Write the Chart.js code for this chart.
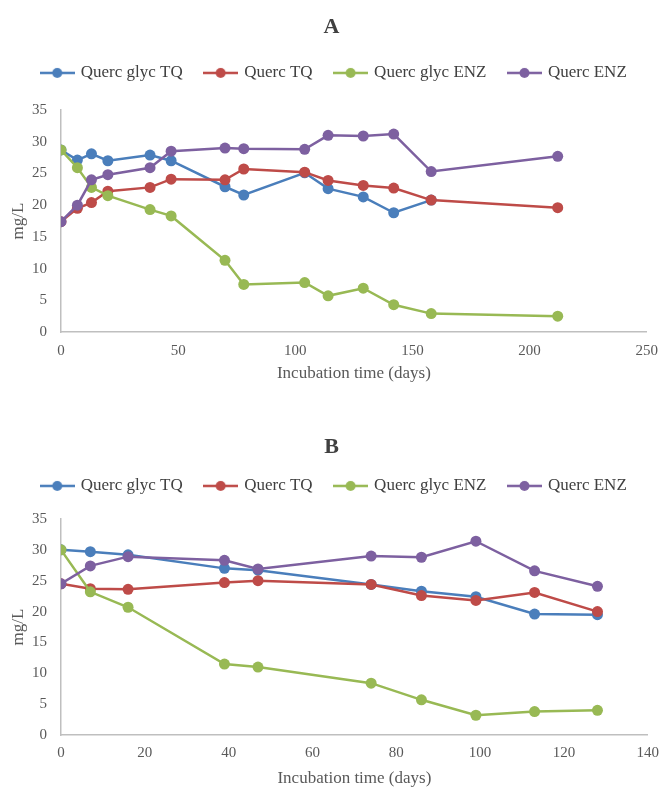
<!DOCTYPE html>
<html>
<head>
<meta charset="utf-8">
<script src="https://cdn.jsdelivr.net/npm/chart.js@4.4.1/dist/chart.umd.min.js"></script>
<style>
    html, body { margin: 0; padding: 0; background: #fff; overflow: hidden; }
    #wrapA { position: relative; width: 668px; height: 405px; }
    #wrapB { position: relative; width: 668px; height: 382px; }
    canvas { display: block; }
</style>
</head>
<body>
<div id="wrapA"><canvas id="chartA"></canvas></div>
<div id="wrapB"><canvas id="chartB"></canvas></div>
<script>
// Series names and colours (shared by both panels)
const seriesNames = ['Querc glyc TQ', 'Querc TQ', 'Querc glyc ENZ', 'Querc ENZ'];
const seriesColors = ['#4a7ebb', '#be4b48', '#98b954', '#7d60a0'];

// Panel A - incubation days and concentrations (mg/L)
const daysA = [0, 7, 13, 20, 38, 47, 70, 78, 104, 114, 129, 142, 158, 212];
const glycTQ_A = [28.7, 27.1, 28.1, 27.0, 27.9, 27.0, 22.9, 21.6, 25.1, 22.6, 21.3, 18.8, 20.8, null];
const quercTQ_A = [17.4, 19.5, 20.4, 22.2, 22.8, 24.1, 24.0, 25.7, 25.2, 23.9, 23.1, 22.7, 20.8, 19.6];
const glycENZ_A = [28.7, 25.9, 22.8, 21.5, 19.3, 18.3, 11.3, 7.5, 7.8, 5.7, 6.9, 4.3, 2.9, 2.5];
const quercENZ_A = [17.4, 20.0, 24.0, 24.8, 25.9, 28.5, 29.0, 28.9, 28.8, 31.0, 30.9, 31.2, 25.3, 27.7];

// Panel B
const daysB = [0, 7, 16, 39, 47, 74, 86, 99, 113, 128];
const glycTQ_B = [30.0, 29.7, 29.2, 27.0, 26.7, 24.4, 23.3, 22.4, 19.6, 19.5];
const quercTQ_B = [24.5, 23.7, 23.6, 24.7, 25.0, 24.4, 22.6, 21.8, 23.1, 20.0];
const glycENZ_B = [30.0, 23.2, 20.7, 11.5, 11.0, 8.4, 5.7, 3.2, 3.8, 4.0];
const quercENZ_B = [24.5, 27.4, 28.9, 28.3, 26.9, 29.0, 28.8, 31.4, 26.6, 24.1];

const serif = "'Liberation Serif', 'Times New Roman', serif";

// Small line + dot image used as legend marker (Excel style)
function legendMarker(color) {
    const c = document.createElement('canvas');
    c.width = 35;
    c.height = 14;
    const g = c.getContext('2d');
    g.strokeStyle = color;
    g.lineWidth = 2.5;
    g.beginPath();
    g.moveTo(0, 7);
    g.lineTo(35, 7);
    g.stroke();
    g.fillStyle = color;
    g.beginPath();
    g.arc(17.5, 7, 5, 0, Math.PI * 2);
    g.fill();
    return c;
}

// Fixes the legend height and nudges title/legend into place
const headerTweak = {
    id: 'headerTweak',
    beforeInit(chart) {
        const opts = chart.options.plugins.headerTweak;
        const fit = chart.legend.fit;
        chart.legend.fit = function () {
            fit.bind(chart.legend)();
            this.height = opts.legendHeight;
        };
    },
    afterLayout(chart) {
        const opts = chart.options.plugins.headerTweak;
        chart.titleBlock.left += opts.titleShift;
        chart.titleBlock.right += opts.titleShift;
        chart.legend.left += opts.legendShift;
        chart.legend.right += opts.legendShift;
        chart.legend.top += opts.legendShiftY;
        chart.legend.bottom += opts.legendShiftY;
    }
};

function buildDatasets(days, seriesList) {
    return seriesList.map((values, i) => ({
        label: seriesNames[i],
        data: days.map((d, j) => ({ x: d, y: values[j] })).filter(p => p.y !== null),
        borderColor: seriesColors[i],
        backgroundColor: seriesColors[i],
        borderWidth: 2.5,
        pointRadius: 5.5,
        pointBorderWidth: 0,
        pointHoverRadius: 5.5,
        order: seriesList.length - i,   // later series drawn on top
        tension: 0
    }));
}

function createPanel(canvasId, title, days, seriesList, xMax, xStep, layout) {
    const ctx = document.getElementById(canvasId).getContext('2d');
    return new Chart(ctx, {
        type: 'line',
        data: { datasets: buildDatasets(days, seriesList) },
        plugins: [headerTweak],
        options: {
            responsive: true,
            maintainAspectRatio: false,
            animation: false,
            layout: { padding: { left: 0, right: 13, top: 0, bottom: 0 } },
            plugins: {
                headerTweak: {
                    legendHeight: layout.legendHeight,
                    legendShiftY: layout.legendShiftY,
                    titleShift: 4,
                    legendShift: 7
                },
                title: {
                    display: true,
                    text: title,
                    color: '#404040',
                    font: { family: serif, size: 22, weight: 'bold', lineHeight: 1.2 },
                    padding: { top: layout.titleTop, bottom: layout.titleBottom }
                },
                legend: {
                    position: 'top',
                    labels: {
                        color: '#404040',
                        font: { family: serif, size: 17 },
                        padding: 23,
                        usePointStyle: true,
                        pointStyleWidth: 30,
                        sort: (a, b) => a.datasetIndex - b.datasetIndex,
                        generateLabels(chart) {
                            const items = Chart.defaults.plugins.legend.labels.generateLabels(chart);
                            items.forEach(item => {
                                item.pointStyle = legendMarker(seriesColors[item.datasetIndex]);
                            });
                            return items;
                        }
                    }
                },
                tooltip: { enabled: false }
            },
            scales: {
                x: {
                    type: 'linear',
                    min: 0,
                    max: xMax,
                    afterFit: scale => { scale.height = layout.xAxisHeight; },
                    grid: { display: false, drawTicks: false },
                    border: { display: true, color: '#bfbfbf', width: 1.5 },
                    ticks: {
                        stepSize: xStep,
                        padding: layout.xTickPad,
                        maxRotation: 0,
                        color: '#595959',
                        font: { family: serif, size: 15 }
                    },
                    title: {
                        display: true,
                        text: 'Incubation time (days)',
                        color: '#595959',
                        font: { family: serif, size: 17, lineHeight: layout.xTitleLine },
                        padding: { top: 0, bottom: layout.xTitleBottom }
                    }
                },
                y: {
                    min: 0,
                    max: 35,
                    afterFit: scale => { scale.width = 61; },
                    grid: { display: false, drawTicks: false },
                    border: { display: true, color: '#bfbfbf', width: 1.5 },
                    ticks: {
                        stepSize: 5,
                        padding: 14,
                        color: '#595959',
                        font: { family: serif, size: 15 }
                    },
                    title: {
                        display: true,
                        text: 'mg/L',
                        color: '#595959',
                        font: { family: serif, size: 17, lineHeight: 1.2 },
                        padding: { top: 8, bottom: 4 }
                    }
                }
            }
        }
    });
}

createPanel('chartA', 'A', daysA, [glycTQ_A, quercTQ_A, glycENZ_A, quercENZ_A], 250, 50,
    { titleTop: 14, titleBottom: 1, legendHeight: 68.6, legendShiftY: 0,
      xAxisHeight: 73, xTickPad: 10, xTitleLine: 1.2, xTitleBottom: 21 });

createPanel('chartB', 'B', daysB, [glycTQ_B, quercTQ_B, glycENZ_B, quercENZ_B], 140, 20,
    { titleTop: 29, titleBottom: 0, legendHeight: 58.6, legendShiftY: -6,
      xAxisHeight: 52, xTickPad: 9, xTitleLine: 1.0, xTitleBottom: 0 });
</script>
</body>
</html>
